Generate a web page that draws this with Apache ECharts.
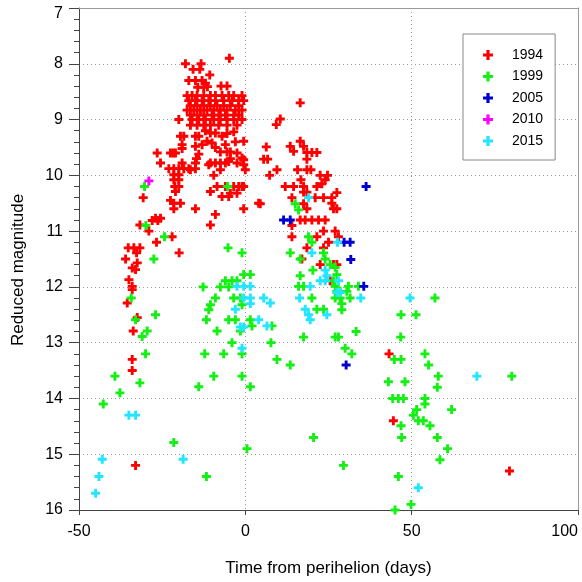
<!DOCTYPE html>
<html>
<head>
<meta charset="utf-8">
<script src="https://cdn.jsdelivr.net/npm/echarts@6/dist/echarts.min.js"></script>
<style>html,body{margin:0;padding:0;background:#fff}#c{width:582px;height:582px}</style>
</head>
<body>
<div id="c"></div>
<script>
// ---- data: [days from perihelion, reduced magnitude] ----
const seriesNames = ['1994', '1999', '2005', '2010', '2015'];
const xTicks = [-50, 0, 50, 100];
const yTicks = [7, 8, 9, 10, 11, 12, 13, 14, 15, 16];

const data1994 = [
  [-4.8,7.9],[-18,8.0],[-13.3,8.0],[-15.7,8.1],[-13.7,8.1],[-10.7,8.2],
  [-17,8.3],[-15,8.3],[-13,8.3],[-12,8.35],[-7.3,8.4],[-5.5,8.4],[-14.3,8.42],[-12.5,8.42],[-11.4,8.41],
  [-17.5,8.57],[-16,8.57],[-14.5,8.57],[-12.5,8.57],[-10.5,8.57],[-9,8.57],[-7,8.57],[-5,8.57],[-3.5,8.57],[-1,8.57],
  [-17,8.66],[-15,8.66],[-13,8.66],[-11,8.66],[-9,8.66],[-6.5,8.66],[-4,8.66],[-2,8.66],[-0.5,8.66],
  [-16.5,8.75],[-14.5,8.75],[-12.5,8.75],[-10.5,8.75],[-8.5,8.75],[-6.5,8.75],[-4.5,8.75],[-2,8.75],
  [-17.5,8.83],[-15.5,8.83],[-13.5,8.83],[-11.5,8.83],[-9.5,8.83],[-7.5,8.83],[-5.5,8.83],[-3,8.83],[-1,8.83],
  [-16.5,8.92],[-14.5,8.92],[-12.5,8.92],[-10,8.92],[-8,8.92],[-6,8.92],[-3.5,8.92],[-2,8.92],
  [-20,9.0],[-16,9.0],[-14,9.0],[-12,9.0],[-9.5,9.0],[-7.5,9.0],[-5.5,9.0],[-3.5,9.0],[-1,9.0],
  [-16.5,9.1],[-14.5,9.1],[-12.5,9.1],[-10.5,9.1],[-8,9.1],[-5.5,9.1],[-2.5,9.1],
  [-18.5,9.3],[-15,9.3],[-14,9.3],[-10.5,9.24],[-9,9.24],[-5.5,9.25],[-3.5,9.22],[-12,9.2],[-7,9.3],[-19.5,9.3],
  [-19,9.45],[-15,9.48],[-11.5,9.39],[-10,9.42],[-9,9.5],[-0.5,9.39],[-19,9.52],[-13,9.45],[-6,9.45],[-3,9.4],
  [-26.5,9.6],[-21.7,9.6],[-21,9.6],[-22.5,9.6],[-7.5,9.58],[-5.5,9.58],[-4.5,9.58],[-2.5,9.6],[-1,9.69],[-14,9.62],
  [-25.5,9.78],[-19,9.78],[-15,9.78],[-14.7,9.7],[-11,9.81],[-10.5,9.78],[-9,9.78],[-7.5,9.78],[-6,9.78],[-5,9.75],[-4.5,9.7],[-2.5,9.78],[-0.5,9.81],[-0.5,9.72],
  [-23,9.88],[-21.5,9.88],[-20,9.88],[-18.5,9.88],[-17,9.88],[-15,9.88],[-16.5,9.9],[-7.5,9.9],[0,9.9],
  [-21.5,9.99],[-20,9.99],[-9.5,10.0],[-21.5,10.08],[-20,10.08],
  [-21.2,10.2],[-20,10.2],[-10.5,10.29],[-8.5,10.2],[-7,10.38],[-5,10.38],[-3.5,10.2],[-2,10.2],[-0.5,10.2],[-21,10.29],[-6,10.2],[-4.5,10.32],[-2.5,10.32],[-1,10.2],
  [-21.5,10.5],[-19.5,10.5],[-22.5,10.45],[-21.5,10.6],[-15,10.6],[-9,10.7],[-0.5,10.6],[-27,10.77],[-25.5,10.77],[-10.5,10.89],[-30.7,10.4],[4,10.5],
  [-31.7,10.89],[-28,10.81],[-26.3,10.81],[-29,11.0],[-26.7,11.2],[-22,11.1],[-35.2,11.3],[-33.5,11.3],[-31.7,11.3],[-19.9,11.39],[-32.7,11.39],
  [-36,11.5],[-32.5,11.57],[-34,11.66],[-33,11.69],[-35,11.87],[-34,11.99],[-34,12.05],[-35.5,12.29],[-32.5,12.55],[-33.7,12.79],[-34,13.3],[-34,13.5],[-33,15.2],
  [16.5,8.7],[10.5,8.99],[9.3,9.09],[16.5,9.39],[6.3,9.49],[13.5,9.48],[14.5,9.57],[17.5,9.48],[18.5,9.59],[20,9.59],[21.5,9.59],
  [5.5,9.71],[6.7,9.71],[18.5,9.71],[9.5,9.9],[15.7,9.9],[18.5,9.9],[19.7,9.9],[7.3,10.0],[22.5,10.0],[24.7,10.0],[16.7,10.08],
  [12,10.2],[14.5,10.2],[17.5,10.2],[21.5,10.2],[23,10.15],[24,10.08],[17.5,10.3],[18.5,10.3],[21,10.4],[27.5,10.31],[14,10.4],[23.5,10.4],[26,10.4],
  [4.5,10.51],[17.5,10.51],[26,10.5],[26.5,10.6],[27.5,10.6],[18.5,10.6],[16.5,10.8],[18,10.8],[20,10.8],[22,10.8],[24,10.8],
  [14,10.9],[23.5,11.0],[27,11.0],[14,11.1],[21.5,11.1],[28,11.1],[25,11.2],[18.5,11.3],[23.5,11.3],[17,11.5],[22.5,11.6],[26.5,11.6],[27.5,11.6],[25.5,11.89],
  [43.2,13.2],[44.5,14.4],[79.4,15.3]
];

const data1999 = [
  [-30.3,10.2],[-5.3,10.2],[-29.9,10.9],[-24.3,11.1],[-5.2,11.3],[-1,11.39],[-27.5,11.5],[-0.5,11.78],[1.5,11.78],
  [-12.7,12.0],[-7.5,12.0],[-5,12.0],[-6,11.89],[-4,11.89],[-2.5,11.89],[-9,12.2],[-10.5,12.32],[-11,12.41],[-3.5,12.2],[-1.5,12.2],[-1,12.32],
  [-27,12.5],[-33,12.59],[-11.7,12.59],[-5,12.59],[-3,12.59],[1.5,12.59],[2,12.7],[-29.5,12.79],[-31,12.89],[-8.5,12.79],[-1.5,12.79],
  [-4,13.0],[-1,13.2],[-30,13.2],[-12.2,13.2],[-6.5,13.2],[-39.2,13.6],[-31.7,13.72],[-9.5,13.6],[-1,13.6],[-14,13.79],[1.5,13.79],
  [-37.7,13.9],[-42.7,14.1],[-21.5,14.79],[0.5,14.9],[-11.7,15.4],[-34.3,12.2],
  [15,10.51],[16,10.62],[19,11.1],[20,11.2],[13.5,11.39],[23.5,11.39],[24,11.5],[16.5,11.5],[25.5,11.6],[27,11.65],[20.3,11.7],[16.5,11.8],
  [27.5,11.78],[26.5,11.89],[16,11.99],[17.5,11.99],[27,11.99],[31,11.99],[34,11.99],[27.5,12.08],[28.5,12.08],[30.5,12.08],
  [20,12.2],[27,12.2],[28.5,12.2],[31.5,12.2],[29,12.3],[29,12.41],[21.5,12.4],[23.5,12.4],[8,12.7],[17.5,12.9],[27,12.9],[28,12.9],
  [33.3,12.8],[7.7,13.0],[30,13.1],[32,13.2],[9.5,13.3],[13.5,13.4],[20.5,14.7],[29.5,15.2],
  [57,12.2],[46.8,12.5],[51.3,12.5],[46.7,12.9],[44.8,13.3],[46.8,13.3],[54,13.2],[55.1,13.4],[58,13.6],[80.1,13.6],[43,13.7],[48,13.7],
  [57.7,13.8],[44.3,14.0],[46,14.0],[47.5,14.0],[54,14.0],[54,14.1],[51.5,14.2],[62,14.2],[50.5,14.3],[52,14.4],[53.5,14.4],
  [46.8,14.49],[55.5,14.49],[47,14.7],[57.7,14.7],[60.8,14.9],[58.5,15.1],[46,15.4],[49.8,15.9],[45,16.0]
];

const data2005 = [[36.3,10.2],[11.5,10.8],[13.5,10.8],[29.7,11.2],[31.5,11.2],[31.7,11.51],[35.6,11.99],[30.3,13.4]];

const data2010 = [[-29,10.1]];

const data2015 = [
  [19,10.4],[27.7,11.2],[20,11.39],[24,11.7],[24.5,11.8],[22.5,11.89],[24,11.89],[28,11.89],[19.5,11.99],[27.5,12.1],[28.5,12.1],
  [16.3,12.2],[34.7,12.2],[18,12.4],[19,12.5],[19.5,12.59],[24.5,12.5],
  [-2.5,11.99],[-0.5,11.99],[1.5,11.99],[1.5,12.2],[1.5,12.3],[-0.5,12.2],[5.5,12.2],[7.5,12.29],[4,12.59],[6.5,12.7],[-3,12.4],
  [-1.5,12.72],[-0.5,12.72],[-1,13.1],[-35,14.3],[-33,14.3],[-43,15.09],[-18.7,15.09],[-44,15.4],[-45,15.7],
  [49.5,12.2],[69.6,13.6],[52,15.6]
];

const allData = [data1994, data1999, data2005, data2010, data2015];
const colors = ['#ff0000', '#14f014', '#0000d0', '#ff00ff', '#22e6ff'];

const plus = 'path://M3.4,0H6.6V3.4H10V6.6H6.6V10H3.4V6.6H0V3.4H3.4Z';
const font = 'Liberation Sans, Arial, sans-serif';

const chart = echarts.init(document.getElementById('c'), null, {renderer: 'canvas'});
chart.setOption({
  animation: false,
  backgroundColor: '#fff',
  grid: {left: 79, right: 4, top: 8, bottom: 72, outerBoundsMode: 'none', containLabel: false},
  legend: {
    left: 463, top: 34, orient: 'vertical',
    backgroundColor: '#fff', borderColor: '#888', borderWidth: 1,
    padding: [14, 12, 12, 20],
    itemWidth: 10, itemHeight: 10, itemGap: 7.5,
    textStyle: {fontFamily: font, fontSize: 14, color: '#000', padding: [0, 0, 0, 14]},
    data: seriesNames
  },
  xAxis: [{
    type: 'value', min: -50, max: 100, interval: 50,
    name: 'Time from perihelion (days)', nameLocation: 'middle', nameGap: 50,
    nameTextStyle: {fontFamily: font, fontSize: 17, color: '#000'},
    axisLine: {onZero: false, lineStyle: {color: '#444'}},
    axisTick: {show: true, length: 5, inside: false, lineStyle: {color: '#444'}},
    axisLabel: {fontFamily: font, fontSize: 16, color: '#000', margin: 14, alignMaxLabel: 'right',
      formatter: v => xTicks.includes(v) ? String(v) : ''},
    splitLine: {show: true, lineStyle: {color: '#999', type: [1, 3], width: 1}}
  }, {
    type: 'value', min: -50, max: 100, position: 'top',
    axisLine: {onZero: false, lineStyle: {color: '#999'}},
    axisTick: {show: false}, axisLabel: {show: false}, splitLine: {show: false}
  }],
  yAxis: [{
    type: 'value', min: 7, max: 16, interval: 1, inverse: true,
    name: 'Reduced magnitude', nameLocation: 'middle', nameGap: 52, nameRotate: 90,
    nameTextStyle: {fontFamily: font, fontSize: 17, color: '#000', padding: [0, 22, 0, 0]},
    axisLine: {onZero: false, lineStyle: {color: '#444'}},
    axisTick: {show: true, length: 10, lineStyle: {color: '#444'}},
    minorTick: {show: true, splitNumber: 5, length: 5, lineStyle: {color: '#444'}},
    axisLabel: {fontFamily: font, fontSize: 16, color: '#000', margin: 16,
      formatter: v => v === 7 ? '{t|7}' : (yTicks.includes(v) ? String(v) : ''),
      rich: {t: {fontFamily: font, fontSize: 16, color: '#000', padding: [12, 0, 0, 0]}}},
    splitLine: {show: true, lineStyle: {color: '#999', type: [1, 3], width: 1}}
  }, {
    type: 'value', min: 7, max: 16, inverse: true, position: 'right',
    axisLine: {show: true, onZero: false, lineStyle: {color: '#999'}},
    axisTick: {show: false}, axisLabel: {show: false}, splitLine: {show: false}
  }],
  series: seriesNames.map((n, i) => ({
    name: n, type: 'scatter', data: allData[i],
    symbol: plus, symbolSize: 9,
    itemStyle: {color: colors[i], opacity: 1},
    z: 2 + i
  }))
});
</script>
</body>
</html>
